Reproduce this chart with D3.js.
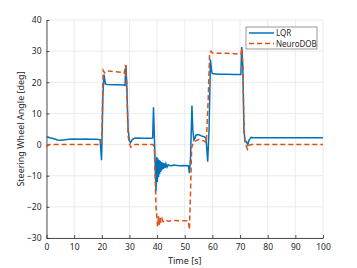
<!DOCTYPE html>
<html>
<head>
<meta charset="utf-8">
<script src="https://cdn.jsdelivr.net/npm/d3@7"></script>
<style>
body { margin: 0; background: #fff; }
svg text { font-family: "Noto Sans", "Open Sans", sans-serif; fill: #262626; }
</style>
</head>
<body>
<div id="chart"></div>
<script>
// LQR trace (time, angle)
const lqrTime = [0,0.5,1,2,3,4,5,6,8,10,12,14,16,18,19.4,19.9,20.1,20.4,20.8,21.3,22,25,28,28.4,28.7,29.0,29.5,30.0,30.4,31.0,32,35,38,38.4,38.7,39.1,39.6,39.9,40.1,40.3,40.5,40.7,40.9,41.1,41.3,41.5,41.7,42.0,42.3,42.6,42.9,43.2,43.6,44,45,46,48,50,51.3,51.7,52.1,52.6,52.9,53.3,53.7,54,55,56,57,57.7,58.3,58.8,59.3,59.7,60,62,65,68,70.3,70.6,71.0,71.4,71.8,72.3,72.8,73.3,74,75,80,90,100];
const lqrValue = [2.3,2.5,2.2,2.0,1.8,1.5,1.4,1.5,1.7,1.8,1.7,1.8,1.7,1.7,1.6,-5.0,2,16,22.5,19.5,19.3,19.2,19.1,19.0,25.5,20,5,1.2,0.6,1.6,2.1,2.0,2.0,2.1,12.0,0,-15,-4,-12,-4.5,-10.5,-5,-9.5,-5.2,-8.8,-5.6,-8.2,-5.8,-7.8,-6.0,-7.5,-6.2,-7.2,-6.5,-6.9,-6.6,-6.8,-6.7,-6.8,-9.2,-4,12.5,5,1.5,2.0,3,3.2,2.8,2.5,2.0,-5.5,5,27.3,23.5,22.8,22.6,22.6,22.5,22.5,31.3,25,5,1.0,1.0,-0.1,1.5,2.3,2.2,2.2,2.2,2.2];

// NeuroDOB trace (time, angle)
const dobTime = [0,0.3,1,5,10,15,19.6,20.0,20.5,21,22,25,27.5,28.1,28.6,29.0,29.5,30,30.5,31,32,35,38.5,39,39.6,39.9,40.2,40.5,40.8,41.1,41.4,41.8,42.2,43,44,46,48,50,51.3,51.7,52.1,52.5,53,54,55,56,57,57.8,58.5,59,59.5,60,62,65,68,70.3,70.7,71,71.5,72,72.7,73.2,74,80,90,100];
const dobValue = [-0.7,-0.3,0,0,0,0,0,2,23.8,23.0,23.6,23.4,23.2,22.9,25.6,20,3,0.2,-0.8,-0.3,0,0,0,-1,-20,-23,-26.4,-23,-25.8,-23.5,-25,-23.8,-24.8,-24.2,-24.6,-24.4,-24.5,-24.5,-24.5,-27.3,-15,-1,0.5,1.2,1.6,1.4,1.2,0.5,15,29.5,30,29.4,29.3,29.3,29.2,29.0,31.0,25,3,0,-1.5,-0.3,0,0,0,0];

const xTicks = [0,10,20,30,40,50,60,70,80,90,100];
const yTicks = [-30,-20,-10,0,10,20,30,40];
const seriesNames = ["LQR", "NeuroDOB"];

const W = 357, H = 268;
const margin = { top: 20, right: 34, bottom: 30, left: 46.5 };

const svg = d3.select('#chart').append('svg')
    .attr('width', W)
    .attr('height', H);

const x = d3.scaleLinear().domain([0, 100]).range([margin.left, W - margin.right]);
const y = d3.scaleLinear().domain([-30, 40]).range([H - margin.bottom, margin.top]);

// grid
svg.append('g')
    .selectAll('line')
    .data(xTicks)
    .enter().append('line')
    .attr('x1', d => x(d)).attr('x2', d => x(d))
    .attr('y1', y(-30)).attr('y2', y(40))
    .attr('stroke', '#e6e6e6').attr('stroke-width', 0.8);
svg.append('g')
    .selectAll('line')
    .data(yTicks)
    .enter().append('line')
    .attr('x1', x(0)).attr('x2', x(100))
    .attr('y1', d => y(d)).attr('y2', d => y(d))
    .attr('stroke', '#e6e6e6').attr('stroke-width', 0.8);

// axes
const xAxis = svg.append('g')
    .attr('transform', `translate(0,${y(-30)})`)
    .call(d3.axisBottom(x).tickValues(xTicks).tickSize(-3).tickPadding(6).tickSizeOuter(0));
const yAxis = svg.append('g')
    .attr('transform', `translate(${x(0)},0)`)
    .call(d3.axisLeft(y).tickValues(yTicks).tickSize(-3).tickPadding(5).tickSizeOuter(0));
[xAxis, yAxis].forEach(a => {
    a.select('.domain').attr('stroke', '#262626').attr('stroke-width', 0.8);
    a.selectAll('.tick line').attr('stroke', '#262626').attr('stroke-width', 0.8);
    a.selectAll('.tick text').attr('font-size', 8.5).style('fill', '#262626');
});

const line = d3.line()
    .x(d => x(d[0]))
    .y(d => y(d[1]));

const lqr = lqrTime.map((t, i) => [t, lqrValue[i]]);
const dob = dobTime.map((t, i) => [t, dobValue[i]]);

svg.append('path')
    .datum(lqr)
    .attr('d', line)
    .attr('fill', 'none')
    .attr('stroke', '#0072BD')
    .attr('stroke-width', 1.5);

svg.append('path')
    .datum(dob)
    .attr('d', line)
    .attr('fill', 'none')
    .attr('stroke', '#D95319')
    .attr('stroke-width', 1.5)
    .attr('stroke-dasharray', '5,3');

// labels
svg.append('text')
    .attr('x', x(50)).attr('y', 264)
    .attr('text-anchor', 'middle')
    .attr('font-size', 9)
    .text('Time [s]');

svg.append('text')
    .attr('transform', `translate(24,${(y(40) + y(-30)) / 2}) rotate(-90)`)
    .attr('text-anchor', 'middle')
    .attr('font-size', 9)
    .text('Steering Wheel Angle [deg]');

// legend
const lg = svg.append('g').attr('transform', 'translate(246,27)');
lg.append('rect')
    .attr('width', 71).attr('height', 22)
    .attr('fill', '#fff')
    .attr('stroke', '#555').attr('stroke-width', 0.6);
const styles = [
    { color: '#0072BD', dash: null },
    { color: '#D95319', dash: '5,3' }
];
seriesNames.forEach((name, i) => {
    const yy = 6 + i * 10.5;
    lg.append('line')
        .attr('x1', 3).attr('x2', 28)
        .attr('y1', yy).attr('y2', yy)
        .attr('stroke', styles[i].color)
        .attr('stroke-width', 1.5)
        .attr('stroke-dasharray', styles[i].dash);
    lg.append('text')
        .attr('x', 30).attr('y', yy + 3)
        .attr('font-size', 8)
        .text(name);
});
</script>
</body>
</html>
